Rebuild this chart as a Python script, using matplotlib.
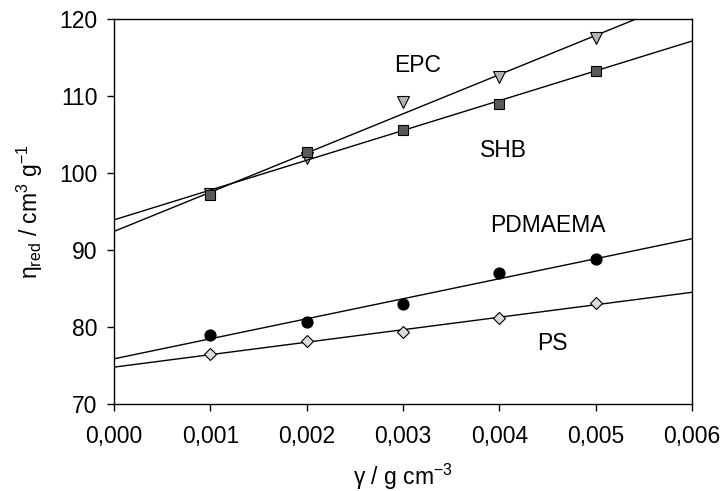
import matplotlib
matplotlib.use('Agg')
import matplotlib.pyplot as plt
import numpy as np

plt.rcParams['font.family'] = ['Liberation Sans', 'DejaVu Sans']
plt.rcParams['mathtext.fontset'] = 'custom'
plt.rcParams['mathtext.rm'] = 'Liberation Sans'
plt.rcParams['mathtext.it'] = 'Liberation Sans:italic'

# concentration, g cm^-3
conc = [0.001, 0.002, 0.003, 0.004, 0.005]

# reduced viscosity, cm^3 g^-1
epc = [97.3, 102.0, 109.2, 112.5, 117.5]
shb = [97.1, 102.7, 105.6, 109.0, 113.3]
pdmaema = [79.0, 80.6, 83.0, 87.0, 88.8]
ps = [76.5, 78.2, 79.3, 81.2, 83.1]

x_ticks = [0.000, 0.001, 0.002, 0.003, 0.004, 0.005, 0.006]
y_ticks = [70, 80, 90, 100, 110, 120]

fig = plt.figure(figsize=(7.23, 4.91), dpi=100)
ax = fig.add_axes([0.1577, 0.177, 0.7993, 0.784])

xfit = np.array([0.0, 0.006])

series = [
    (epc, 'v', '#b4b4b4', 8.5),
    (shb, 's', '#5a5a5a', 7.5),
    (pdmaema, 'o', 'black', 8),
    (ps, 'D', '#dcdcdc', 6.5),
]

for y, m, c, ms in series:
    k, b = np.polyfit(conc, y, 1)
    ax.plot(xfit, k * xfit + b, color='black', lw=1)
    ax.plot(conc, y, linestyle='none', marker=m, markersize=ms,
            markerfacecolor=c, markeredgecolor='black', markeredgewidth=0.8)

fs = 16.5
ax.text(0.00315, 114.0, 'EPC', fontsize=fs, ha='center', va='center')
ax.text(0.00404, 103.0, 'SHB', fontsize=fs, ha='center', va='center')
ax.text(0.0045, 93.25, 'PDMAEMA', fontsize=fs, ha='center', va='center')
ax.text(0.00455, 77.9, 'PS', fontsize=fs, ha='center', va='center')

ax.set_xlim(0, 0.006)
ax.set_ylim(70, 120)
ax.set_xticks(x_ticks)
ax.set_xticklabels([('%.3f' % v).replace('.', ',') for v in x_ticks])
ax.set_yticks(y_ticks)
ax.tick_params(direction='out', length=5, width=1, labelsize=fs)
ax.tick_params(axis='x', pad=10)
ax.tick_params(axis='y', pad=7)

ax.set_xlabel(r'γ / g cm$^{\mathregular{-3}}$', fontsize=fs, labelpad=10)
ax.set_ylabel(r'η$_{\mathregular{red}}$ / cm$^{\mathregular{3}}$ g$^{\mathregular{-1}}$',
              fontsize=fs, labelpad=10)

for s in ax.spines.values():
    s.set_linewidth(1)

fig.savefig('out.png', dpi=100)
